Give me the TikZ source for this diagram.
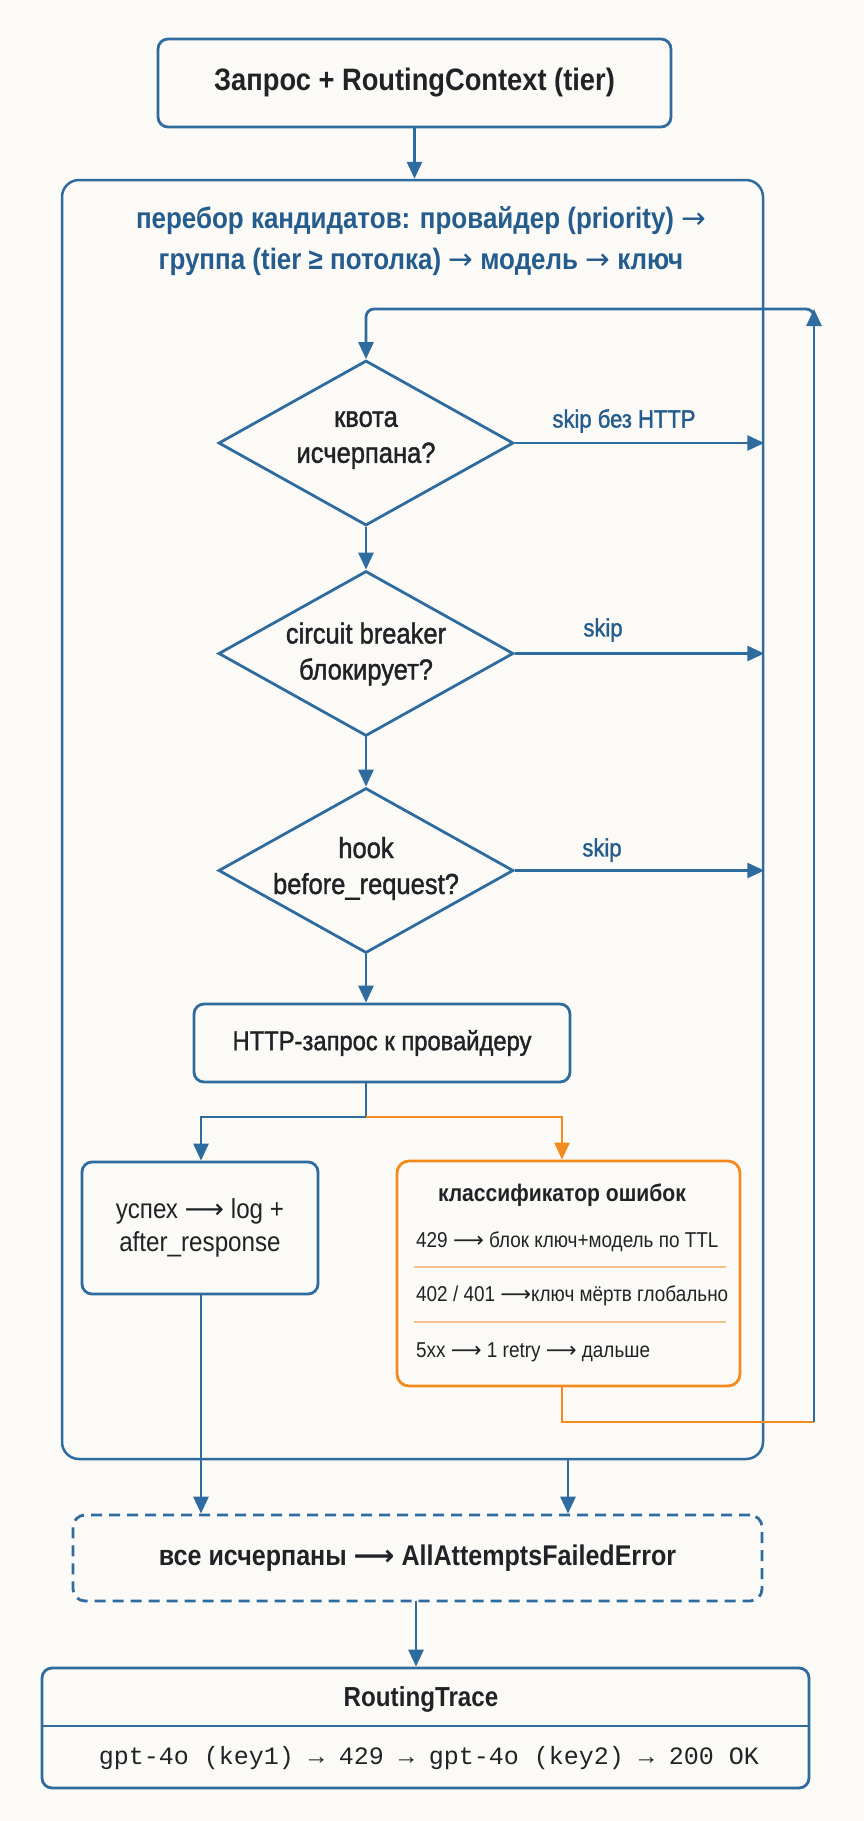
\documentclass[tikz,border=0pt]{standalone}
\usepackage{fontspec}
\setmainfont[FakeStretch=0.88]{Liberation Sans}
\newfontfamily\medfont[FakeStretch=0.88,FakeBold=1.4]{Liberation Sans}
\newfontfamily\symf{DejaVu Sans}
\setmonofont{Liberation Mono}
\usetikzlibrary{shapes.geometric,arrows.meta}
\definecolor{bg}{HTML}{FCFAF6}
\definecolor{lblue}{HTML}{2E6CA0}
\definecolor{tblue}{HTML}{245C8E}
\definecolor{orng}{HTML}{F28A1E}
\definecolor{lorng}{HTML}{F6C08C}
\definecolor{ink}{HTML}{1F2326}
\newcommand\larr{{\symf\char"27F6}}
\newcommand\sarr{{\symf\mdseries\char"2192}}
\begin{document}
\begin{tikzpicture}[x=1pt,y=-1pt,
  every node/.style={text=ink, inner sep=0pt},
  box/.style={draw=lblue, line width=2.8pt, rounded corners=10pt, fill=bg, rectangle},
  obox/.style={draw=orng, line width=2.8pt, rounded corners=12pt, fill=bg, rectangle},
  dbox/.style={draw=lblue, line width=2.8pt, rounded corners=12pt, dash pattern=on 11pt off 7pt, rectangle},
  dia/.style={draw=lblue, line width=2.8pt, diamond, fill=bg, minimum width=295pt, minimum height=165pt},
  diatext/.style={align=center, font=\medfont\fontsize{29}{36}\selectfont},
  conn/.style={draw=lblue, line width=2.8pt, -{Triangle[length=17pt,width=15pt]}},
  oconn/.style={draw=orng, line width=2.8pt, -{Triangle[length=17pt,width=15pt]}},
  skiplbl/.style={text=tblue, font=\medfont\fontsize{25}{28}\selectfont},
]
\fill[bg] (0,0) rectangle (864,1821);
\useasboundingbox (0,0) rectangle (864,1821);

% container
\node[box, rounded corners=17pt, line width=2.5pt, minimum width=701pt, minimum height=1279pt] (group) at (412.5,819.5) {};
\node[text=tblue, font=\bfseries\fontsize{29.5}{41}\selectfont, align=center] (gtitle) at (421,241.5) {перебор кандидатов: провайдер (priority) \sarr\\группа (tier ≥ потолка) \sarr{} модель \sarr{} ключ};

% top
\node[box, minimum width=513pt, minimum height=88pt, font=\bfseries\fontsize{31}{34}\selectfont] (top) at (414.5,83) {Запрос + RoutingContext (tier)};

% diamonds
\node[dia] (d1) at (366,443) {};
\node[diatext] (t1) at (366,440) {квота\\исчерпана?};
\node[dia] (d2) at (366,653.5) {};
\node[diatext] (t2) at (366,654) {circuit breaker\\блокирует?};
\node[dia] (d3) at (366,870.5) {};
\node[diatext] (t3) at (366,868.5) {hook\\before\_request?};

% http
\node[box, minimum width=376pt, minimum height=78pt, font=\medfont\fontsize{27}{30}\selectfont] (http) at (382,1043) {HTTP-запрос к провайдеру};

% success
\node[box, minimum width=236pt, minimum height=132pt, align=center, font=\fontsize{27.5}{33}\selectfont] (succ) at (200,1228) {успех \larr{} log +\\after\_response};

% classifier
\node[obox, minimum width=343pt, minimum height=225pt] (clsf) at (568.5,1273.5) {};
\node[font=\bfseries\fontsize{24}{28}\selectfont] (ctitle) at (562,1195) {классификатор ошибок};
\node[anchor=west, font=\fontsize{21.5}{24}\selectfont] (r1) at (416,1242) {429 \larr{} блок ключ+модель по TTL};
\node[anchor=west, font=\fontsize{21.5}{24}\selectfont] (r2) at (416,1296) {402 / 401 \larr{}ключ мёртв глобально};
\node[anchor=west, font=\fontsize{21.5}{24}\selectfont] (r3) at (416,1352) {5xx \larr{} 1 retry \larr{} дальше};
\coordinate (s1a) at (414,1267); \coordinate (s1b) at (726,1267);
\coordinate (s2a) at (414,1322); \coordinate (s2b) at (726,1322);
\draw[lorng, line width=1.6pt] (s1a) -- (s1b);
\draw[lorng, line width=1.6pt] (s2a) -- (s2b);

% dashed final
\node[dbox, minimum width=689pt, minimum height=86pt, font=\bfseries\fontsize{28.5}{32}\selectfont] (fail) at (417.5,1558) {все исчерпаны \larr{} AllAttemptsFailedError};

% trace
\node[box, minimum width=767pt, minimum height=120pt] (trace) at (425.5,1728) {};
\coordinate (tsl) at (42,1726); \coordinate (tsr) at (809,1726);
\draw[lblue, line width=2.8pt] (tsl) -- (tsr);
\node[font=\bfseries\fontsize{27.5}{30}\selectfont] (ttitle) at (421,1699) {RoutingTrace};
\node[font=\ttfamily\fontsize{25}{28}\selectfont] (tline) at (429,1758) {gpt-4o (key1) → 429 → gpt-4o (key2) → 200 OK};

% connectors
\draw[conn] (top.south) -- (top.south |- group.north);
\draw[conn] (d1.south) -- (d2.north);
\draw[conn] (d2.south) -- (d3.north);
\draw[conn] (d3.south) -- (d3.south |- http.north);
\draw[conn] (d1.east) -- (d1.east -| group.east);
\draw[conn] (d2.east) -- (d2.east -| group.east);
\draw[conn] (d3.east) -- (d3.east -| group.east);
\node[skiplbl] (l1) at (624,421) {skip без HTTP};
\node[skiplbl] (l2) at (603,630) {skip};
\node[skiplbl] (l3) at (602,850) {skip};

\coordinate (split) at (366,1117);
\coordinate (oc) at (562,1117);
\coordinate (sc) at (201,1117);
\draw[lblue, line width=2.8pt] (d3.south |- http.south) -- (split);
\draw[conn] (split) -- (sc) -- (sc |- succ.north);
\draw[oconn] (split) -- (oc) -- (oc |- clsf.north);

% loop back
\coordinate (lo) at (562,1422);
\coordinate (lr) at (814,1422);
\coordinate (lt) at (814,309);
\coordinate (ll) at (366,309);
\draw[orng, line width=2.8pt] (oc |- clsf.south) -- (lo) -- (lr);
\draw[conn] (lr) -- (lt);
\draw[conn, rounded corners=8pt] ([yshift=-14pt]lt) -- (lt) -- (ll) -- (d1.north);

% to fail
\draw[conn] (succ.south -| sc) -- (sc |- fail.north);
\coordinate (gc) at (568,1459);
\draw[conn] (gc) -- (gc |- fail.north);
\coordinate (fc) at (416,1601);
\draw[conn] (fc) -- (fc |- trace.north);
\end{tikzpicture}
\end{document}
